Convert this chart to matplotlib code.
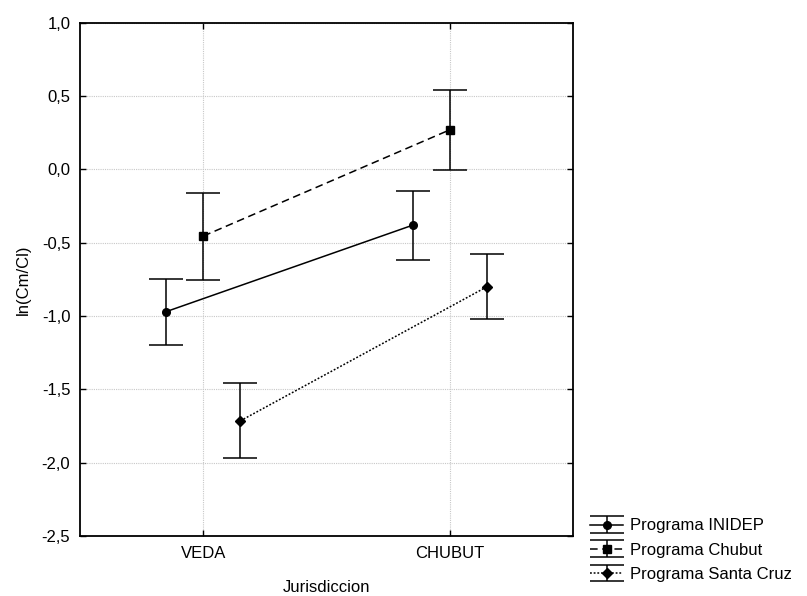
import numpy as np
import matplotlib
matplotlib.use('Agg')
import matplotlib.pyplot as plt
from matplotlib.ticker import FuncFormatter

plt.rcParams['font.family'] = ['Liberation Sans', 'DejaVu Sans']

categories = ['VEDA', 'CHUBUT']
series_names = ['Programa INIDEP', 'Programa Chubut', 'Programa Santa Cruz']

means_inidep = [-0.97, -0.38]
upper_inidep = [-0.75, -0.15]
lower_inidep = [-1.20, -0.615]

means_chubut = [-0.455, 0.27]
upper_chubut = [-0.163, 0.54]
lower_chubut = [-0.755, -0.005]

means_santacruz = [-1.715, -0.80]
upper_santacruz = [-1.455, -0.578]
lower_santacruz = [-1.97, -1.022]

offsets = [-0.15, 0.0, 0.15]
markers = ['o', 's', 'D']
linestyles = ['-', (0, (5, 3)), (0, (1.2, 1.2))]
marker_sizes = [5.5, 5.2, 5.0]


def comma_fmt(v, pos):
    return f'{v:.1f}'.replace('.', ',')


fig = plt.figure(figsize=(8.07, 5.96), dpi=100)
ax = fig.add_axes([0.0991, 0.1007, 0.6115, 0.8613])

x = np.arange(len(categories))
data = [
    (means_inidep, upper_inidep, lower_inidep),
    (means_chubut, upper_chubut, lower_chubut),
    (means_santacruz, upper_santacruz, lower_santacruz),
]

for i, (m, up, lo) in enumerate(data):
    m = np.array(m)
    yerr = [m - np.array(lo), np.array(up) - m]
    ax.errorbar(x + offsets[i], m, yerr=yerr, color='black', ecolor='black',
                linestyle=linestyles[i], linewidth=1.1, elinewidth=1.1,
                marker=markers[i], markersize=marker_sizes[i],
                capsize=12.5, capthick=1.1, label=series_names[i])

ax.set_xlim(-0.5, 1.5)
ax.set_ylim(-2.5, 1.0)
ax.set_xticks(x)
ax.set_xticklabels(categories)
ax.set_yticks(np.arange(-2.5, 1.01, 0.5))
ax.yaxis.set_major_formatter(FuncFormatter(comma_fmt))
ax.grid(True, color='#c8c8c8', linestyle=(0, (1, 1)), linewidth=0.8)
ax.set_axisbelow(True)
ax.tick_params(direction='in', length=4, width=1, labelsize=12,
               top=True, right=True, pad=7)
for s in ax.spines.values():
    s.set_linewidth(1.3)

ax.set_xlabel('Jurisdiccion', fontsize=12, labelpad=14)
ax.set_ylabel('ln(Cm/Cl)', fontsize=12, labelpad=8)

leg = ax.legend(loc='lower left', bbox_to_anchor=(1.02, -0.102),
                frameon=False, fontsize=12, handlelength=2.0,
                handletextpad=0.4, labelspacing=0.55, borderaxespad=0)

fig.savefig('out.png', dpi=100)
